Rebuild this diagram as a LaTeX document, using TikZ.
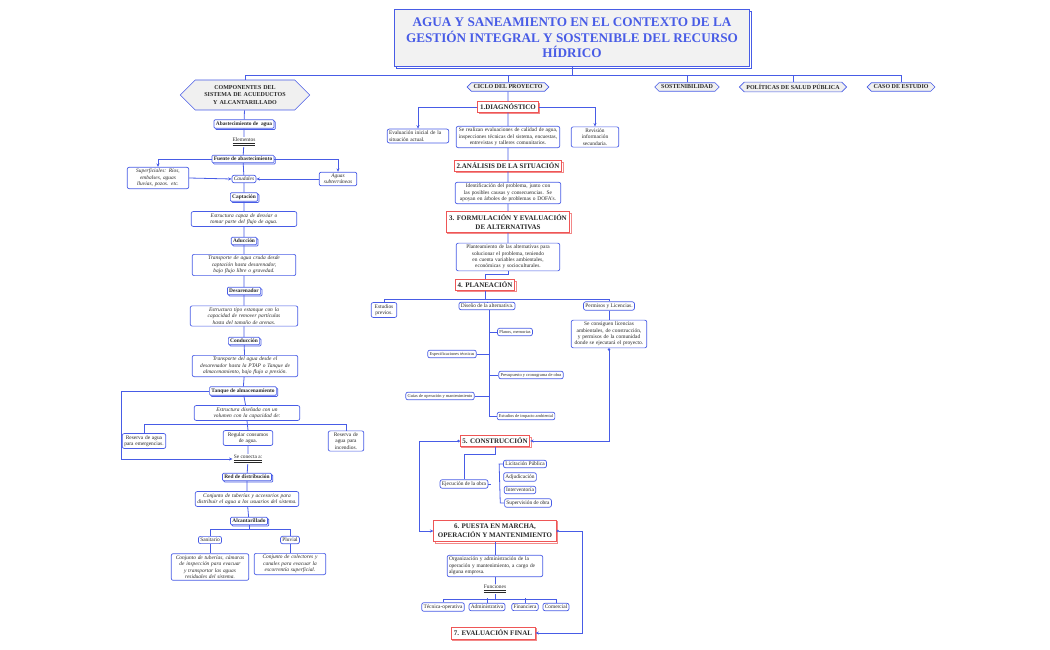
\documentclass[tikz,border=0pt]{standalone}
\usepackage{fontspec}
\setmainfont{Liberation Serif}
\usetikzlibrary{shapes.symbols,shadows,arrows.meta,calc}
\definecolor{bl}{RGB}{72,92,230}
\definecolor{rd}{RGB}{238,86,86}
\definecolor{tx}{RGB}{40,40,40}
\hyphenpenalty=10000 \exhyphenpenalty=10000
\tikzset{
 b/.style={draw=bl,rounded corners=2pt,fill=white,line width=0.7pt,font=\fontsize{5.4}{6.4}\selectfont,align=center,inner sep=1.8pt,text=tx},
 it/.style={b,font=\fontsize{5.4}{6.4}\selectfont\itshape},
 lb/.style={b,rounded corners=1pt,font=\fontsize{5.4}{6.4}\selectfont\bfseries,copy shadow={shadow xshift=1.3pt,shadow yshift=-1.3pt,draw=bl,fill=white}},
 rb/.style={draw=rd,fill=white,line width=0.8pt,font=\fontsize{7}{8.6}\selectfont\bfseries,align=center,inner sep=2.2pt,text=tx,copy shadow={shadow xshift=1.5pt,shadow yshift=-1.5pt,draw=rd!70,fill=white}},
 hx/.style={signal,signal to=west and east,draw=bl,fill=gray!12,line width=0.6pt,font=\fontsize{6}{7.4}\selectfont\bfseries,align=center,inner sep=2.2pt,text=tx},
 ul/.style={font=\fontsize{5.4}{6.4}\selectfont,text=tx,inner sep=1pt},
 sm/.style={b,font=\fontsize{4.4}{5.2}\selectfont},
 ln/.style={bl,line width=0.8pt},
 ar/.style={ln,-{Stealth[length=3.5pt,width=3pt]}},
 dar/.style={ln,{Circle[length=2.5pt]}-{Stealth[length=3.5pt,width=3pt]}},
}
\newcommand{\dul}[1]{\underline{\underline{#1}}}
\begin{document}
\begin{tikzpicture}[x=1pt,y=-1pt]
\useasboundingbox (0,0) rectangle (1050,650);
% title
\node[draw=bl,fill=gray!10,line width=0.8pt,minimum width=355pt,minimum height=57pt,align=center,
 font=\fontsize{13.2}{15.5}\selectfont\bfseries,text=bl,copy shadow={shadow xshift=2pt,shadow yshift=-2pt,draw=bl,fill=white}] (T) at (572,38)
 {AGUA Y SANEAMIENTO EN EL CONTEXTO DE LA\\GESTIÓN INTEGRAL Y SOSTENIBLE DEL RECURSO\\HÍDRICO};
\node[hx,text width=95pt,minimum height=30pt] (H1) at (245,95) {COMPONENTES DEL SISTEMA DE ACUEDUCTOS Y ALCANTARILLADO};
\node[hx] (H2) at (508,87) {CICLO DEL PROYECTO};
\node[hx] (H3) at (687,87) {SOSTENIBILIDAD};
\node[hx] (H4) at (793,87) {POLÍTICAS DE SALUD PÚBLICA};
\node[hx] (H5) at (901,87) {CASO DE ESTUDIO};
\draw[ln] (T.south) -- (T.south|-0,75);
\draw[ln] (H1.north) -- (H1.north|-0,75) -- (H5.north|-0,75) -- (H5.north);
\foreach \h in {H2,H3,H4} \draw[ln] (\h.north) -- (\h.north|-0,75);

% ===== left column
\node[lb] (A1) at (244,124) {Abastecimiento de\ \ agua};
\node[ul] (E1) at (244,142) {\dul{Elementos}};
\node[lb] (A2) at (243,159) {Fuente de abastecimiento};
\node[it,text width=58pt] (S1) at (158,178) {Superficiales: Ríos, embalses, aguas lluvias, pozos. etc.};
\node[it] (Ca) at (244,179) {Caudales};
\node[it,text width=34pt] (S2) at (338,179) {Aguas subterráneas};
\node[lb] (Cp) at (244,197) {Captación};
\node[it,text width=102pt] (Cpb) at (244,219) {Estructura capaz de desviar o tomar parte del flujo de agua.};
\node[lb] (Ad) at (244,241) {Aducción};
\node[it,text width=100pt] (Adb) at (244,265) {Transporte de agua cruda desde captación hasta desarenador, bajo flujo libre o gravedad.};
\node[lb] (De) at (244,291) {Desarenador};
\node[it,text width=104pt] (Deb) at (244,316) {Estructura tipo estanque con la capacidad de remover partículas hasta del tamaño de arenas.};
\node[lb] (Co) at (244,341) {Conducción};
\node[it,text width=102pt] (Cob) at (245,366) {Transporte del agua desde el desarenador hasta la PTAP o Tanque de almacenamiento, bajo flujo a presión.};
\node[lb] (Ta) at (243,391) {Tanque de almacenamiento};
\node[it,text width=102pt] (Tab) at (247,413) {Estructura diseñada con un volumen con la capacidad de:};
\node[b,text width=40pt] (R1) at (144,441) {Reserva de agua para emergencias.};
\node[b,text width=46pt] (R2) at (248,438) {Regular consumos de agua.};
\node[b,text width=32pt] (R3) at (346,441) {Reserva de agua para incendios.};
\node[ul] (Sc) at (248,459) {\dul{Se conecta a:}};
\node[lb] (Rd) at (247,477) {Red de distribución};
\node[it,text width=100pt] (Rdb) at (247,499) {Conjunto de tuberías y accesorios para distribuir el agua a los usuarios del sistema.};
\node[lb] (Al) at (249,521) {Alcantarillado};
\node[b] (Sa) at (210,540) {Sanitario};
\node[b] (Pl) at (290,540) {Pluvial};
\node[it,text width=74pt] (Sab) at (210,567) {Conjunto de tuberías, cámaras de inspección para evacuar y transportar las aguas residuales del sistema.};
\node[it,text width=68pt] (Plb) at (290,564) {Conjunto de colectores y canales para evacuar la escorrentía superficial.};

\draw[ln] (H1) -- (A1) -- (E1) -- (A2) -- (Ca) -- (Cp) -- (Cpb) -- (Ad) -- (Adb) -- (De) -- (Deb) -- (Co) -- (Cob) -- (Ta) -- (Tab);
\draw[ar] (A2.west) -| (S1.north);
\draw[ar] (A2.east) -| (S2.north);
\draw[ar] (S1.east) -- (Ca.west);
\draw[ar] (S2.west) -- (Ca.east);
\draw[ln] (Tab.south) -- (R2.north);
\draw[ln] (R1.north) |- ($(Tab.south)+(0,4)$) -| (R3.north);
\draw[ln] (R2) -- (Sc) -- (Rd) -- (Rdb) -- (Al);
\draw[ar] (Ta.west) -- ++(-88,0) |- (Sc.west);
\draw[ln] (Sa.north) |- ($(Al.south)+(0,4)$) -| (Pl.north);
\draw[ln] (Al.south) -- ++(0,4);
\draw[ln] (Sa) -- (Sab) (Pl) -- (Plb);

% ===== middle column
\node[rb] (D1) at (508,107) {1.DIAGNÓSTICO};
\node[b,text width=58pt,align=left] (D1a) at (418,136) {Evaluación inicial de la situación actual.};
\node[b,text width=100pt] (D1b) at (508,137) {Se realizan evaluaciones de calidad de agua, inspecciones técnicas del sistema, encuestas, entrevistas y talleres comunitarios.};
\node[b,text width=44pt] (D1c) at (595,137) {Revisión información secundaria.};
\node[rb] (D2) at (508,166) {2.ANÁLISIS DE LA SITUACIÓN};
\node[b,text width=102pt] (D2b) at (508,193) {Identificación del problema, junto con las posibles causas y consecuencias. Se apoyan en árboles de problemas o DOFA's.};
\node[rb,minimum width=115pt,inner sep=3pt] (D3) at (508,222) {3. FORMULACIÓN Y EVALUACIÓN\\DE ALTERNATIVAS};
\node[b,text width=100pt] (D3b) at (508,257) {Planteamiento de las alternativas para solucionar el problema, teniendo en cuenta variables ambientales, económicas y socioculturales.};
\node[rb] (D4) at (485,285) {4. PLANEACIÓN};
\node[b,text width=22pt] (P1) at (384,310) {Estudios previos.};
\node[b] (P2) at (487,306) {Diseño de la alternativa.};
\node[b] (P3) at (609,306) {Permisos y Licencias.};
\node[b,text width=72pt] (P3b) at (609,334) {Se consiguen licencias ambientales, de construcción, y permisos de la comunidad donde se ejecutará el proyecto.};
\node[sm] (Q1) at (515,332) {Planos, memorias};
\node[sm] (Q2) at (452,354) {Especificaciones técnicas};
\node[sm] (Q3) at (531,375) {Presupuesto y cronograma de obra};
\node[sm] (Q4) at (440,396) {Guías de operación y mantenimiento};
\node[sm] (Q5) at (526,416) {Estudios de impacto ambiental};
\node[rb] (D5) at (495,441) {5. CONSTRUCCIÓN};
\node[b] (Ej) at (464,484) {Ejecución de la obra};
\node[b] (K1) at (525,464) {Licitación Pública};
\node[b] (K2) at (520,477) {Adjudicación};
\node[b] (K3) at (520,490) {Interventoría};
\node[b] (K4) at (528,503) {Supervisión de obra};
\node[rb,minimum width=112pt,inner sep=4pt] (D6) at (495,531) {6. PUESTA EN MARCHA,\\OPERACIÓN Y MANTENIMIENTO};
\node[b,text width=92pt,align=left] (D6b) at (495,566) {Organización y administración de la operación y mantenimiento, a cargo de alguna empresa.};
\node[ul] (Fu) at (495,589) {\dul{Funciones}};
\node[b] (F1) at (443,607) {Técnica-operativa};
\node[b] (F2) at (487,607) {Administrativa};
\node[b] (F3) at (525,607) {Financiera};
\node[b] (F4) at (556,607) {Comercial};
\node[rb,inner sep=3pt] (D7) at (493,633) {7. EVALUACIÓN FINAL};

\draw[ln] (H2) -- (D1) -- (D1b) -- (D2) -- (D2b) -- (D3) -- (D3b.north);
\draw[ar] (D1.west) -| (D1a.north);
\draw[ar] (D1.east) -| (D1c.north);
\draw[ln] (D3b.south) -- ++(0,3) -| (D4.north);
\draw[ln] (D4.south) -- ++(0,9);
\draw[ln] (P1.north) |- ($(D4.south)+(0,9)$) -| (P3.north);
\draw[ln] (P2.north) -- (P2.north|-P1.north);
\draw[ln] (P3) -- (P3b);
\coordinate (tr) at ($(P2.south)+(2,0)$);
\draw[ln] (tr) -- (tr|-Q5);
\foreach \q in {Q1,Q3,Q5} \draw[ln] (tr|-\q) -- (\q.west);
\foreach \q in {Q2,Q4} \draw[ln] (tr|-\q) -- (\q.east);
\draw[dar] (P3b.south) |- (D5.east);
\draw[ln] (D5.south) -- ++(0,8) -| (Ej.north);
\draw[ln] (K1.west) -- ++(-4,0) -- ($(K4.west)+(-4,0)$) -- (K4.west);
\draw[ln] (Ej.east) -- ++(3,0);
\draw[dar] (D5.west) -- ++(-40,0) |- (D6.west);
\draw[dar] (D6.east) -- ++(26,0) |- (D7.east);
\draw[ln] (D6) -- (D6b) -- (Fu);
\draw[ln] (F1.north) |- ($(Fu.south)+(0,5)$) -| (F4.north);
\draw[ln] (Fu.south) -- ++(0,5) (F2.north) -- ++(0,-5) (F3.north) -- ++(0,-5);
\end{tikzpicture}
\end{document}
